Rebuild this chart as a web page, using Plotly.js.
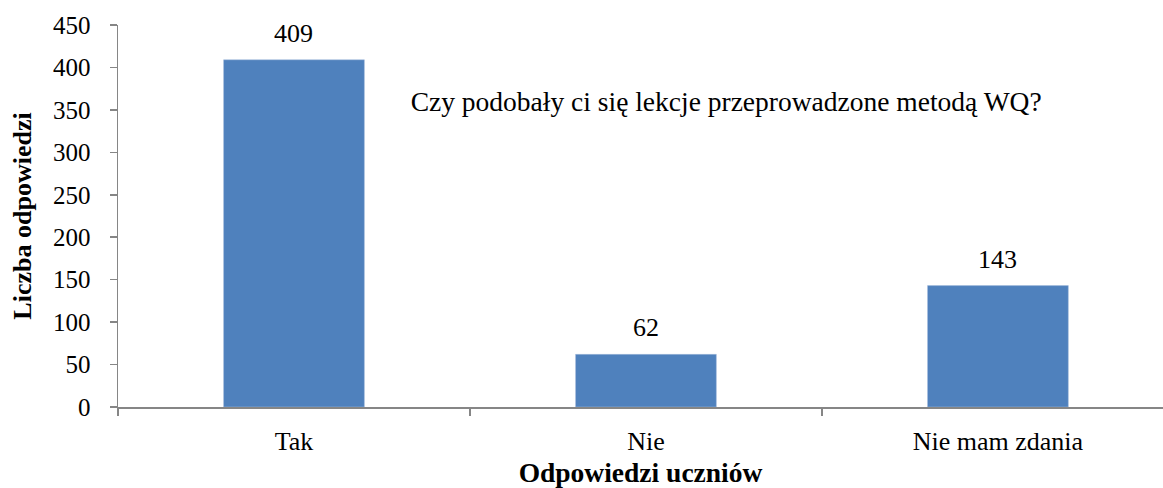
<!DOCTYPE html>
<html>
<head>
<meta charset="utf-8">
<script src="https://cdn.plot.ly/plotly-3.0.1.min.js"></script>
<style>html,body{margin:0;padding:0;background:#fff;}#chart{width:1163px;height:488px;}</style>
</head>
<body>
<div id="chart"></div>
<script>
const categories = ["Tak", "Nie", "Nie mam zdania"];
const values = [409, 62, 143];
const chartTitle = "Czy podobały ci się lekcje przeprowadzone metodą WQ?";
const xTitle = "Odpowiedzi uczniów";
const yTitle = "Liczba odpowiedzi";

const FONT = "'Liberation Serif'";
const AXIS_COLOR = "#868686";

const trace = {
  type: "bar",
  x: categories,
  y: values,
  width: 0.4,
  marker: {color: "#4F81BD", line: {color: "#a7bddd", width: 0.5}},
  hoverinfo: "none"
};

const annotations = categories.map((c, i) => ({
  x: c, y: values[i], xref: "x", yref: "y",
  text: String(values[i]), showarrow: false,
  yanchor: "bottom", yshift: 10,
  font: {family: FONT, size: 26, color: "#000"}
}));

const layout = {
  width: 1163, height: 488,
  margin: {l: 118, r: 0, t: 25, b: 81, pad: 0},
  paper_bgcolor: "#fff", plot_bgcolor: "#fff",
  showlegend: false,
  font: {family: FONT, size: 25, color: "#000"},
  title: {
    text: chartTitle,
    font: {family: FONT, size: 27.5, color: "#000"},
    xref: "paper", x: 0.582, xanchor: "center",
    yref: "container", y: 1 - 101/488, yanchor: "middle"
  },
  xaxis: {
    type: "category",
    range: [-0.5, 2.469],
    showline: true, linecolor: AXIS_COLOR, linewidth: 1.5,
    ticks: "outside", tickson: "boundaries", ticklen: 7, tickcolor: AXIS_COLOR, tickwidth: 1.5,
    showgrid: false, zeroline: false,
    tickfont: {family: FONT, size: 26, color: "#000"},
    ticklabelstandoff: 10,
    title: {text: "<b>" + xTitle + "</b>", font: {family: FONT, size: 27.5, color: "#000"}, standoff: 13}
  },
  yaxis: {
    range: [0, 450],
    tick0: 0, dtick: 50,
    showline: true, linecolor: AXIS_COLOR, linewidth: 1.5,
    ticks: "outside", ticklen: 7, tickcolor: AXIS_COLOR, tickwidth: 1.5,
    showgrid: false, zeroline: false,
    tickfont: {family: FONT, size: 25, color: "#000"},
    ticklabelstandoff: 14,
    title: {text: "<b>" + yTitle + "</b>", font: {family: FONT, size: 26, color: "#000"}, standoff: 14}
  },
  annotations: annotations
};

Plotly.newPlot("chart", [trace], layout, {staticPlot: true, displayModeBar: false});
</script>
</body>
</html>
